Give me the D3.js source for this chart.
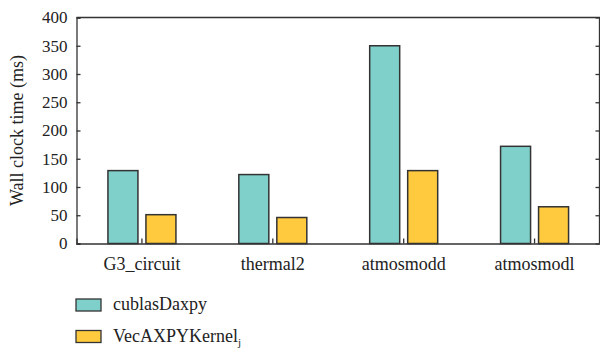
<!DOCTYPE html>
<html>
<head>
<meta charset="utf-8">
<script src="https://cdn.jsdelivr.net/npm/d3@7"></script>
<style>
  html, body { margin: 0; padding: 0; background: #fff; }
  svg { display: block; }
  svg text { font-family: "Liberation Serif", "Times New Roman", serif; fill: #222; }
</style>
</head>
<body>
<svg id="chart" width="600" height="349"></svg>
<script>
// Matrices benchmarked
const categories = ["G3_circuit", "thermal2", "atmosmodd", "atmosmodl"];
// Wall clock time (ms) per kernel
const cublasDaxpy = [129, 122, 350, 172];
const vecAXPYKernel = [51, 46, 129, 65];
const yTicks = [0, 50, 100, 150, 200, 250, 300, 350, 400];
const seriesNames = ["cublasDaxpy", "VecAXPYKernel"];
const seriesColors = ["#7fd0cb", "#ffca3e"];

const serif = '"Liberation Serif", "Times New Roman", serif';
const svg = d3.select("#chart");
const plotLeft = 76.5, plotRight = 600, plotTop = 17.5, plotBottom = 243.5;

const x = d3.scaleBand().domain(categories).range([plotLeft, plotRight]).paddingInner(0).paddingOuter(0);
const y = d3.scaleLinear().domain([0, 400]).range([plotBottom, plotTop]);

const axisColor = "#333";

// Frame lines
svg.append("line").attr("x1", plotLeft).attr("x2", plotRight).attr("y1", plotTop).attr("y2", plotTop)
  .attr("stroke", axisColor).attr("stroke-width", 1.3);
svg.append("line").attr("x1", plotRight - 0.5).attr("x2", plotRight - 0.5).attr("y1", plotTop).attr("y2", plotBottom)
  .attr("stroke", axisColor).attr("stroke-width", 1.3);

// Left axis, ticks pointing inward
const yAxis = svg.append("g").attr("transform", `translate(${plotLeft},0)`)
  .call(d3.axisLeft(y).tickValues(yTicks).tickSize(-4).tickPadding(9))
  .attr("font-family", serif).attr("font-size", 17);
yAxis.select(".domain").attr("stroke", axisColor).attr("stroke-width", 1.3);
yAxis.selectAll(".tick line").attr("stroke", axisColor).attr("stroke-width", 1.3);
yAxis.selectAll(".tick text").attr("fill", "#222");

// Right axis ticks, inward
const yAxisR = svg.append("g").attr("transform", `translate(${plotRight - 0.5},0)`)
  .call(d3.axisRight(y).tickValues(yTicks).tickSize(-4).tickFormat(""));
yAxisR.select(".domain").remove();
yAxisR.selectAll(".tick line").attr("stroke", axisColor).attr("stroke-width", 1.3);

// Bottom axis, small inward ticks at category centres
const xAxis = svg.append("g").attr("transform", `translate(0,${plotBottom})`)
  .call(d3.axisBottom(x).tickSize(-5).tickPadding(14))
  .attr("font-family", serif).attr("font-size", 18);
xAxis.select(".domain").attr("stroke", axisColor).attr("stroke-width", 1.3);
xAxis.selectAll(".tick line").attr("stroke", axisColor).attr("stroke-width", 1.3);
xAxis.selectAll(".tick text").attr("fill", "#222");

// Bars
const barW = 30, gap = 4;
const groups = svg.append("g").selectAll("g").data(categories).join("g")
  .attr("transform", d => `translate(${x(d) + x.bandwidth() / 2},0)`);

[cublasDaxpy, vecAXPYKernel].forEach((vals, si) => {
  groups.append("rect")
    .attr("x", si === 0 ? -gap - barW : gap)
    .attr("y", (d, i) => y(vals[i]))
    .attr("width", barW)
    .attr("height", (d, i) => y(0) - y(vals[i]))
    .attr("fill", seriesColors[si])
    .attr("stroke", "#333")
    .attr("stroke-width", 1.5);
});

// Y axis title
svg.append("text")
  .attr("transform", `translate(23,${(plotTop + plotBottom) / 2}) rotate(-90)`)
  .attr("text-anchor", "middle")
  .attr("font-family", serif)
  .attr("font-size", 18)
  .text("Wall clock time (ms)");

// Legend
const legend = svg.append("g").attr("font-family", serif);
seriesNames.forEach((name, i) => {
  const ly = 299 + i * 31.5;
  legend.append("rect").attr("x", 76).attr("y", ly).attr("width", 25).attr("height", 12)
    .attr("fill", seriesColors[i]).attr("stroke", "#333").attr("stroke-width", 1.3);
  const t = legend.append("text").attr("x", 113).attr("y", ly + 11).attr("font-size", 18).text(name);
  if (i === 1) {
    t.append("tspan").attr("font-size", 11).attr("dy", 4).text("j");
  }
});
</script>
</body>
</html>
